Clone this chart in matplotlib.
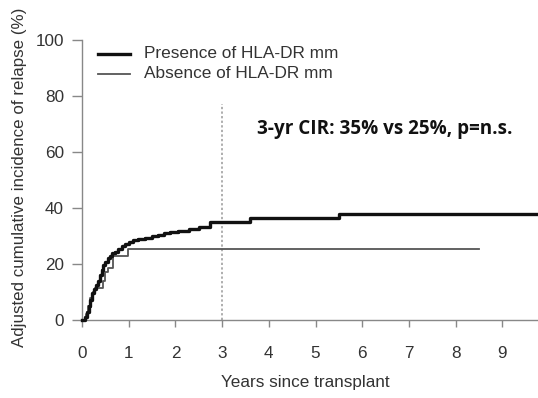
import matplotlib
matplotlib.use("Agg")
import matplotlib.pyplot as plt

# Data
presence_t = [0, 0.06, 0.10, 0.14, 0.18, 0.22, 0.26, 0.30, 0.34, 0.38, 0.42, 0.46, 0.50,
              0.55, 0.60, 0.65, 0.70, 0.78, 0.85, 0.92, 1.00, 1.10, 1.20, 1.35, 1.50,
              1.62, 1.75, 1.88, 2.05, 2.30, 2.50, 2.75, 3.60, 5.50, 10.0]
presence_v = [0, 1, 3, 5, 7, 9.5, 11, 12.5, 14, 16, 18, 19.5, 20.8,
              22, 23, 23.8, 24.4, 25.5, 26.3, 27, 28, 28.5, 28.8, 29.4, 29.9,
              30.4, 31, 31.5, 31.8, 32.5, 33.3, 35.1, 36.3, 37.9, 37.9]
absence_t = [0, 0.08, 0.13, 0.18, 0.23, 0.28, 0.45, 0.50, 0.55, 0.66, 0.98, 8.5]
absence_v = [0, 2, 5, 8, 10, 11.5, 14, 17, 18.6, 22.9, 25.3, 25.3]

x_ticks = [0, 1, 2, 3, 4, 5, 6, 7, 8, 9]
y_ticks = [0, 20, 40, 60, 80, 100]
legend_labels = ["Presence of HLA-DR mm", "Absence of HLA-DR mm"]
annotation = "3-yr CIR: 35% vs 25%, p=n.s."
marker_year = 3

plt.rcParams['font.family'] = ['Liberation Sans', 'DejaVu Sans']

W, H = 538, 398
fig = plt.figure(figsize=(W / 100, H / 100), dpi=100)

x0, x1 = 82, 538
y0, y1 = 320, 40
ax = fig.add_axes([x0 / W, 1 - y0 / H, (x1 - x0) / W, (y0 - y1) / H])
ax.set_xlim(0, (x1 - x0) / 46.7)
ax.set_ylim(0, 100)

txt = "#333333"
axc = "#888888"

ax.step(presence_t, presence_v, where="post", color="#111111", lw=2.4, clip_on=False, zorder=3)
ax.step(absence_t, absence_v, where="post", color="#555555", lw=1.3, clip_on=False, zorder=2)

ax.plot([marker_year, marker_year], [0, 77], color="#999999", lw=1.1, ls=(0, (1.5, 1.5)), zorder=1)

for s in ["top", "right"]:
    ax.spines[s].set_visible(False)
ax.spines["left"].set_bounds(0, 100)
ax.spines["left"].set_color(axc)
ax.spines["bottom"].set_color(axc)
ax.spines["left"].set_linewidth(1.0)
ax.spines["bottom"].set_linewidth(1.0)

ax.set_xticks(x_ticks)
ax.set_yticks(y_ticks)
ax.tick_params(axis="x", length=5, width=1.0, color=axc, pad=13.5, labelsize=12.3, labelcolor=txt)
ax.tick_params(axis="y", length=7, width=1.0, color=axc, pad=6, labelsize=12.3, labelcolor=txt)

fig.text(20 / W, 1 - 177 / H, "Adjusted cumulative incidence of relapse (%)", rotation=90,
         ha="center", va="center", fontsize=12.2, color=txt)
fig.text(305 / W, 1 - 383 / H, "Years since transplant", ha="center", va="center",
         fontsize=12.3, color=txt)

# legend
fig.add_artist(plt.Line2D([98 / W, 130 / W], [1 - 54 / H, 1 - 54 / H], color="#111111", lw=2.4))
fig.add_artist(plt.Line2D([98 / W, 130 / W], [1 - 74 / H, 1 - 74 / H], color="#555555", lw=1.3))
fig.text(144 / W, 1 - 54 / H, legend_labels[0], ha="left", va="center", fontsize=12.4, color=txt)
fig.text(144 / W, 1 - 74 / H, legend_labels[1], ha="left", va="center", fontsize=12.4, color=txt)

fig.text(257 / W, 1 - 129 / H, annotation, ha="left", va="center", fontsize=13.6,
         fontweight="bold", family=["Open Sans", "DejaVu Sans"], color="#111111")

fig.savefig("out.png", dpi=100, facecolor="white")
